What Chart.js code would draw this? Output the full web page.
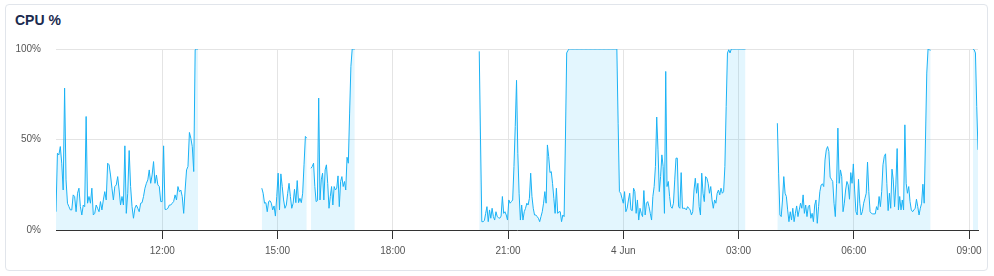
<!DOCTYPE html>
<html><head><meta charset="utf-8">
<script src="https://cdn.jsdelivr.net/npm/chart.js@4.4.0/dist/chart.umd.min.js"></script>
<style>
html,body{margin:0;padding:0;background:#fff;width:994px;height:276px;overflow:hidden;font-family:"Liberation Sans",Arial,sans-serif}
.card{position:absolute;left:5px;top:4px;width:983px;height:267px;border:1px solid #e1e5eb;border-radius:4px;box-sizing:border-box}
.title{position:absolute;left:15px;top:12px;font-weight:bold;font-size:14px;line-height:16px;color:#1b2a4e}
#c{position:absolute;left:6px;top:40px}
</style></head>
<body>
<div class="card"></div>
<div class="title">CPU %</div>
<canvas id="c" width="982" height="220"></canvas>
<script>
// x values are hours since 3 Jun 00:00
const xMin = 9.233, xMax = 33.233;
const xTickHours = [12, 15, 18, 21, 24, 27, 30, 33];
const yTicks = [0, 50, 100];
// [start, end] hour of each continuous run of samples
const segTimes = [[9.233, 12.93], [14.59, 15.76], [15.87, 17.01], [20.25, 27.18], [28.01, 32.0], [33.10, 33.233]];

const segA = [10.1,42.4,41.5,46.1,36.9,22.1,78.4,27.7,14.8,12.9,11.1,11.1,19.4,18.5,10.1,20.3,23.1,12.9,8.3,13.8,12.9,62.7,14.8,18.5,14.8,23.1,8.3,9.2,13.8,12.0,10.1,15.7,11.1,16.6,21.2,16.6,36.9,36.0,30.4,23.1,16.6,24.0,24.9,29.5,22.1,13.8,18.5,13.8,46.5,9.2,20.3,43.9,24.0,12.9,6.5,12.0,13.8,12.0,10.1,14.8,15.1,18.5,23.1,25.8,27.7,33.2,25.8,30.4,37.8,25.8,30.4,24.9,24.0,15.7,15.7,46.5,11.4,11.4,12.0,13.8,13.8,14.8,15.7,19.4,16.6,24.0,21.2,22.1,18.5,9.2,22.1,33.2,35.1,53.9,50.7,46.1,32.3,99.6,100,100];
const segB = [23.1,20.3,14.8,15.1,10.1,15.7,16.2,14.8,11.1,13.3,7.7,18.5,31.4,11.1,31.0,24.0,16.6,12.0,13.8,20.3,25.8,18.5,12.0,14.8,22.5,15.1,27.3,15.1,17.5,15.1,20.3,36.0,51.7,50.7];
const segC = [34.1,35.1,36.9,24.0,15.7,16.2,72.9,16.6,27.7,31.4,16.6,33.2,36.0,25.8,12.0,18.5,24.0,13.8,24.0,22.1,23.1,29.9,12.9,26.8,29.5,24.0,26.8,22.1,40.2,36.9,64.6,90.4,100,100,100];
const segD = [98.7,49.8,4.6,4.6,5.2,9.2,12.9,4.6,11.1,6.5,12.0,7.4,5.5,10.1,7.4,6.8,6.5,7.7,18.5,9.2,10.1,8.3,5.5,16.6,14.8,15.7,16.6,35.1,57.2,82.7,42.4,20.3,5.5,13.8,5.5,10.1,12.0,14.8,13.8,17.5,31.4,18.5,12.0,8.3,8.3,7.4,6.5,4.6,7.4,10.1,14.8,21.2,14.8,47.0,40.6,31.7,32.3,25.8,17.5,9.2,23.1,9.2,10.1,10.1,4.6,8.3,7.4,49.8,97.8,99.3,100,
  100,100,100,100,100,100,100,100,100,100,100,100,100,100,100,100,100,100,100,100,100,100,100,100,100,100,100,100,100,100,100,100,100,100,100,100,
  100,59.0,21.2,20.3,17.5,14.8,21.2,10.1,12.0,16.6,20.3,11.1,10.7,23.1,21.2,9.2,16.6,5.5,12.0,9.2,7.4,21.8,8.3,14.8,15.7,12.9,9.2,5.5,18.5,24.0,35.1,62.4,44.3,21.2,29.5,41.5,35.1,9.2,87.6,24.0,26.8,18.5,12.9,12.0,14.8,27.7,39.7,39.7,12.9,12.0,31.7,12.0,12.0,12.0,11.1,12.9,12.0,11.1,8.3,10.1,22.1,28.6,20.3,25.8,12.9,8.3,31.4,20.3,15.7,29.5,28.6,25.8,20.3,24.0,16.6,12.0,16.6,14.8,20.3,22.1,19.4,23.1,20.3,21.2,35.1,68.3,97.8,99.6,97.8,100,
  100,100,100,100,100,100,100,100,100,100,100];
const segE = [59.0,31.4,8.3,7.4,16.6,29.5,20.3,18.5,11.1,4.6,10.1,5.5,12.0,4.6,9.2,13.3,7.4,11.1,14.8,12.0,19.4,9.2,13.8,7.4,12.9,13.8,6.5,9.2,4.6,13.8,16.6,3.7,12.9,21.2,24.9,25.5,24.0,38.7,44.3,46.1,43.4,29.2,28.0,26.8,14.8,7.4,25.8,56.3,25.8,33.2,29.5,10.1,14.8,22.1,26.8,24.9,17.0,31.7,25.8,36.5,22.1,10.1,8.3,28.0,14.8,8.3,10.1,14.8,17.5,20.3,37.5,21.2,10.1,9.2,8.9,8.9,8.9,12.9,11.1,18.5,12.9,21.2,36.0,40.6,42.1,25.8,10.7,20.3,12.0,33.6,27.7,12.9,24.9,45.0,11.1,18.5,11.1,16.6,11.1,58.1,25.8,20.3,24.0,15.7,11.1,10.1,11.1,12.0,17.0,12.9,8.3,12.0,14.8,25.3,14.8,49.8,86.7,100,99.6,99.3];
const segF = [100,99.6,97.8,68.3,44.3];
const segValues = [segA, segB, segC, segD, segE, segF];

const points = [];
segValues.forEach((vals, i) => {
  const [t0, t1] = segTimes[i];
  if (i > 0) points.push({x: (segTimes[i-1][1] + t0) / 2, y: null});
  vals.forEach((v, j) => points.push({x: t0 + (t1 - t0) * j / (vals.length - 1), y: v}));
});

const pad2 = n => (n < 10 ? '0' : '') + n;
const tickFont = {family: '"Liberation Sans", Arial, sans-serif', size: 10};

new Chart(document.getElementById('c'), {
  type: 'line',
  data: {datasets: [{
    data: points,
    borderColor: '#1ab2f5',
    backgroundColor: 'rgba(26,178,245,0.12)',
    borderWidth: 1,
    pointRadius: 0,
    fill: 'origin',
    tension: 0,
    spanGaps: false
  }]},
  options: {
    responsive: false,
    animation: false,
    events: [],
    layout: {padding: {left: 0, right: 10, top: 9, bottom: 0}},
    plugins: {legend: {display: false}, tooltip: {enabled: false}},
    scales: {
      x: {
        type: 'linear', min: xMin, max: xMax,
        afterBuildTicks: s => { s.ticks = xTickHours.map(v => ({value: v})); },
        afterFit: s => { s.height = 30; s.paddingLeft = 0; s.paddingRight = 0; },
        ticks: {
          maxRotation: 0, autoSkip: false, padding: 6, color: '#555', font: tickFont,
          callback: v => (v === 24 ? '4 Jun' : pad2(v % 24) + ':00')
        },
        grid: {color: '#e4e4e4', tickColor: '#333', tickLength: 9, drawTicks: true},
        border: {display: true, color: '#333', width: 1}
      },
      y: {
        min: 0, max: 100,
        afterBuildTicks: s => { s.ticks = yTicks.map(v => ({value: v})); },
        afterFit: s => { s.width = 50; s.paddingTop = 0; s.paddingBottom = 0; },
        ticks: {padding: 15, color: '#555', font: tickFont, callback: v => v + '%'},
        grid: {drawTicks: false, color: c => (c.tick && c.tick.value === 0 ? 'rgba(0,0,0,0)' : '#e4e4e4')},
        border: {display: false}
      }
    }
  }
});
</script>
</body></html>
